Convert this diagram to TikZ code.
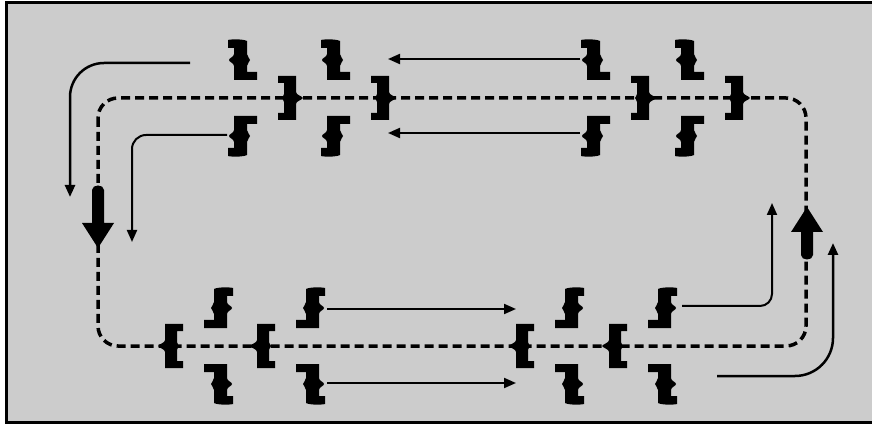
\documentclass[tikz,border=0pt]{standalone}
\usetikzlibrary{arrows.meta}

\definecolor{paper}{gray}{0.80}

% one wavy half-bracket, drawn above the origin
\newcommand\halfpiecepath{%
  \fill[black] (-12,-58) .. controls (-8,-59) and (3,-59) .. (7,-57)
    -- (7,-44) .. controls (7,-41) and (10,-40) .. (10,-38)
    .. controls (10,-36) and (7,-35) .. (7,-32)
    -- (7,-26) -- (17,-26) -- (17,-18) -- (-6,-18)
    -- (-6,-32) .. controls (-6,-35) and (-11,-36) .. (-11,-38)
    .. controls (-11,-40) and (-6,-41) .. (-6,-44) -- (-6,-50) -- (-12,-50) -- cycle;
}
% curly brace standing on the loop line
\newcommand\bracepiecepath{%
  \fill[black] (-12,-22) -- (6,-22) -- (6,-6) .. controls (6,-3) and (12,-2) .. (13,0)
    .. controls (12,2) and (6,3) .. (6,6) -- (6,22) -- (-12,22) -- (-12,15)
    -- (-6,15) -- (-6,4) .. controls (-6,2) and (-8,1) .. (-8,0)
    .. controls (-8,-1) and (-6,-2) .. (-6,-4) -- (-6,-15) -- (-12,-15) -- cycle;
}

\tikzset{
  % thin signal arrows
  flow/.style={line width=2pt, -{Triangle[length=12pt,width=10pt]}},
  % dashed circulation loop
  loopline/.style={line width=3.5pt, dash pattern=on 9pt off 5pt, rounded corners=20pt},
  % a pair of half-brackets with a brace beside them
  pics/cluster/.style={code={
    \halfpiecepath
    \begin{scope}[yscale=-1]\halfpiecepath\end{scope}
    \begin{scope}[shift={(50,0)}]\bracepiecepath\end{scope}
  }},
  % heavy flow arrow, tip at the origin, pointing down
  pics/bigarrow/.style={code={
    \fill[black] (0,0) -- (-16,-25) -- (-6,-25) -- (-6,-#1)
      .. controls (-6,-#1-6) and (6,-#1-6) .. (6,-#1)
      -- (6,-25) -- (16,-25) -- cycle;
  }},
}

\begin{document}
\begin{tikzpicture}[x=1pt,y=-1pt]
  \useasboundingbox (0,0) rectangle (872,427);
  \clip (0,0) rectangle (872,427);
  \fill[white] (0,0) rectangle (872,427);
  \fill[paper] (6.5,3) rectangle (872,422.5);
  \draw[line width=3pt] (6.5,3) rectangle (890,422.5);

  % loop
  \draw[loopline] (98,98) rectangle (806,346);

  % upper row of clusters
  \pic at (240,98) {cluster};
  \pic at (333,98) {cluster};
  \pic at (593,98) {cluster};
  \pic at (687,98) {cluster};

  % lower row of clusters (mirrored)
  \pic[xscale=-1] at (221,346) {cluster};
  \pic[xscale=-1] at (313,346) {cluster};
  \pic[xscale=-1] at (572,346) {cluster};
  \pic[xscale=-1] at (665,346) {cluster};

  % heavy arrows on the loop
  \pic at (98,248) {bigarrow=58};
  \pic[rotate=180] at (807,207) {bigarrow=48};

  % arrow end points
  \coordinate (a1s) at (190,63);  \coordinate (a1e) at (70,197);
  \coordinate (a2s) at (227,135); \coordinate (a2e) at (132,242);
  \coordinate (a3s) at (580,59);  \coordinate (a3e) at (388,59);
  \coordinate (a4s) at (580,133); \coordinate (a4e) at (388,133);
  \coordinate (a5s) at (327,309); \coordinate (a5e) at (516,309);
  \coordinate (a6s) at (327,383); \coordinate (a6e) at (516,383);
  \coordinate (a7s) at (682,306); \coordinate (a7e) at (772,203);
  \coordinate (a8s) at (717,376); \coordinate (a8e) at (833,243);

  % thin arrows
  \draw[flow, rounded corners=34pt, line width=2.5pt] (a1s) -| (a1e);
  \draw[flow, rounded corners=14pt] (a2s) -| (a2e);
  \draw[flow] (a3s) -- (a3e);
  \draw[flow] (a4s) -- (a4e);
  \draw[flow] (a5s) -- (a5e);
  \draw[flow] (a6s) -- (a6e);
  \draw[flow, rounded corners=12pt] (a7s) -| (a7e);
  \draw[flow, rounded corners=38pt, line width=2.5pt] (a8s) -| (a8e);
\end{tikzpicture}
\end{document}
